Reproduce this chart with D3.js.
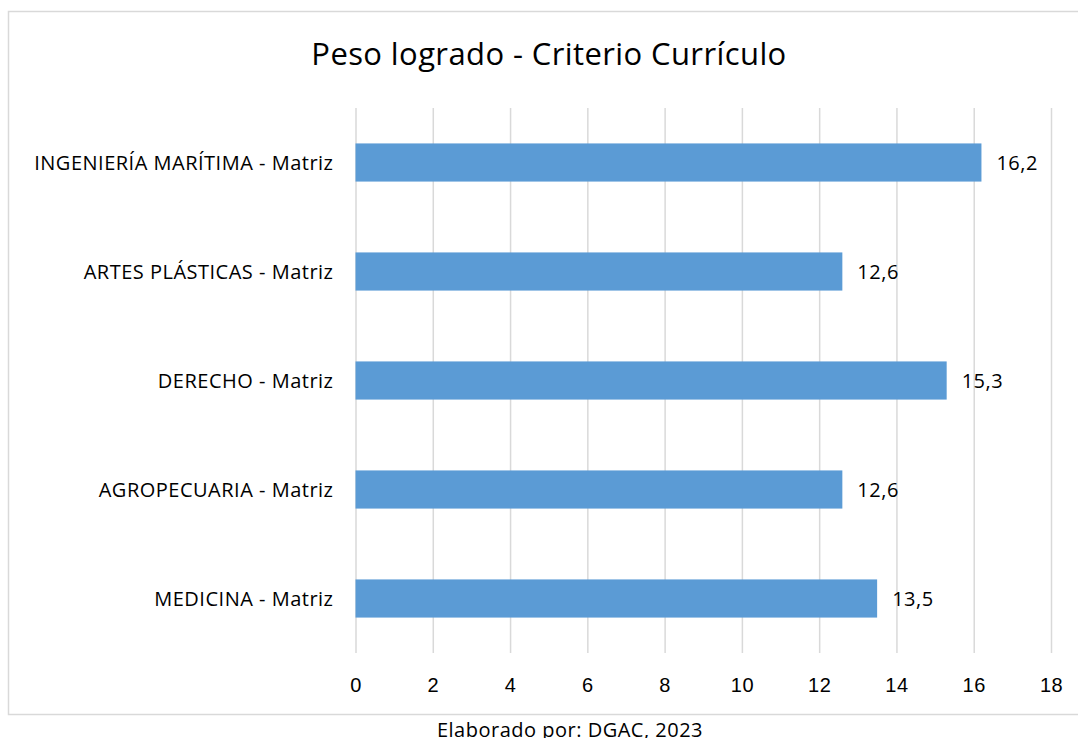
<!doctype html>
<html>
<head>
  <meta charset="utf-8">
  <title>Peso logrado - Criterio Currículo</title>
  <script src="https://d3js.org/d3.v7.min.js"></script>
  <style>
  body {
    margin: 0;
    background: #fff;
  }

  svg {
    font-family: "Open Sans", Lato, sans-serif;
    display: block;
  }

  .grid line {
    stroke: #d9d9d9;
    stroke-width: 1.5;
  }

  .grid path {
    display: none;
  }

  .axis path,
  .axis line {
    display: none;
  }

  .axis text,
  .cat text,
  .label {
    font-size: 20px;
    letter-spacing: 0.5px;
    fill: #000;
  }
  </style>
</head>
<body>
  <script>
    // data
    var categories = ["INGENIERÍA MARÍTIMA - Matriz", "ARTES PLÁSTICAS - Matriz",
                      "DERECHO - Matriz", "AGROPECUARIA - Matriz", "MEDICINA - Matriz"];
    var values = [16.2, 12.6, 15.3, 12.6, 13.5];
    var ticks = [0, 2, 4, 6, 8, 10, 12, 14, 16, 18];

    var width = 1078,
        height = 738,
        margin = {top: 108, right: 27, bottom: 85, left: 355.5};

    var data = categories.map(function(c, i){
      return {cat: c, value: values[i]};
    });

    var svg = d3.select("body").append("svg")
        .attr("width", width)
        .attr("height", height);

    // outer frame
    svg.append("rect")
        .attr("x", 8.5)
        .attr("y", 11.5)
        .attr("width", 1080)
        .attr("height", 703)
        .attr("fill", "none")
        .attr("stroke", "#d9d9d9")
        .attr("stroke-width", 1.5);

    var x = d3.scaleLinear()
        .domain([0, 18])
        .range([margin.left, width - margin.right]);

    var y = d3.scaleBand()
        .domain(categories)
        .range([margin.top, height - margin.bottom])
        .paddingInner(0.65)
        .paddingOuter(0.325);

    // vertical gridlines
    svg.append("g")
        .attr("class", "grid")
        .attr("transform", "translate(0," + margin.top + ")")
        .call(d3.axisBottom(x)
            .tickValues(ticks)
            .tickSize(height - margin.bottom - margin.top)
            .tickFormat(""));

    // x axis labels
    svg.append("g")
        .attr("class", "axis")
        .attr("transform", "translate(0," + (height - margin.bottom) + ")")
        .call(d3.axisBottom(x)
            .tickValues(ticks)
            .tickSize(0)
            .tickPadding(32))
        .selectAll("text")
          .attr("dy", "0.35em");

    // category labels
    svg.append("g")
        .attr("class", "cat")
        .selectAll("text")
        .data(categories)
      .enter().append("text")
        .attr("x", margin.left - 22)
        .attr("y", function(d){ return y(d) + y.bandwidth() / 2; })
        .attr("dy", "0.35em")
        .attr("text-anchor", "end")
        .text(function(d){ return d; });

    // bars
    svg.selectAll(".bar")
        .data(data)
      .enter().append("rect")
        .attr("class", "bar")
        .attr("x", x(0))
        .attr("y", function(d){ return y(d.cat); })
        .attr("width", function(d){ return x(d.value) - x(0); })
        .attr("height", y.bandwidth())
        .attr("fill", "#5b9bd5");

    // value labels
    svg.selectAll(".label")
        .data(data)
      .enter().append("text")
        .attr("class", "label")
        .attr("x", function(d){ return x(d.value) + 15; })
        .attr("y", function(d){ return y(d.cat) + y.bandwidth() / 2; })
        .attr("dy", "0.35em")
        .text(function(d){ return String(d.value).replace(".", ","); });

    // title
    svg.append("text")
        .attr("x", 549)
        .attr("y", 65)
        .attr("text-anchor", "middle")
        .style("font-size", "31px")
        .style("letter-spacing", "0.4px")
        .text("Peso logrado - Criterio Currículo");

    // source note
    svg.append("text")
        .attr("x", 570)
        .attr("y", 737)
        .attr("text-anchor", "middle")
        .style("font-size", "20px")
        .style("letter-spacing", "0.5px")
        .text("Elaborado por: DGAC, 2023");
  </script>
</body>
</html>
